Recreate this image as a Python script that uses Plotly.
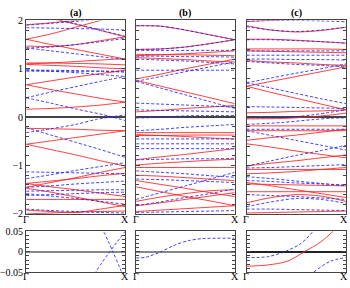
import plotly.graph_objects as go

# k-path grid (Gamma -> X) for the regular bands
K5 = [0.0, 0.25, 0.5, 0.75, 1.0]
k_labels = ["Γ", "X"]
panel_titles = ["(a)", "(b)", "(c)"]

# ---------- panel (a) ----------
a_red = [
    [0.165, 0.18, 0.21, 0.25, 0.31],
    [0.67, 0.57, 0.48, 0.39, 0.31],
    [0.67, 0.75, 0.83, 0.90, 0.97],
    [1.12, 1.12, 1.11, 1.10, 1.08],
    [1.10, 1.12, 1.15, 1.18, 1.21],
    [1.09, 1.07, 1.05, 1.02, 1.00],
    [1.61, 1.50, 1.40, 1.30, 1.20],
    [1.47, 1.46, 1.50, 1.58, 1.66],
    [1.61, 1.72, 1.86, 2.00, 2.15],
    [2.30, 2.05, 1.92, 1.79, 1.66],
    [1.91, 1.95, 2.00, 2.05, 2.10],
    [-0.23, -0.24, -0.25, -0.27, -0.28],
    [-0.56, -0.49, -0.42, -0.35, -0.28],
    [-0.56, -0.67, -0.78, -0.90, -1.01],
    [-1.37, -1.32, -1.27, -1.21, -1.16],
    [-1.45, -1.35, -1.25, -1.14, -1.04],
    [-1.37, -1.44, -1.50, -1.57, -1.64],
    [-1.70, -1.70, -1.70, -1.70, -1.70],
    [-1.47, -1.55, -1.65, -1.75, -1.85],
    [-1.92, -1.95, -1.97, -1.90, -1.82],
    [-2.00, -1.98, -1.96, -1.95, -1.94],
]
a_blue = [
    [0.40, 0.52, 0.63, 0.74, 0.84],
    [0.95, 0.95, 0.95, 0.95, 0.95],
    [0.97, 0.97, 0.96, 0.95, 0.93],
    [0.98, 0.95, 0.92, 0.88, 0.84],
    [1.43, 1.37, 1.31, 1.25, 1.19],
    [1.43, 1.45, 1.50, 1.56, 1.63],
    [1.90, 1.94, 1.98, 2.03, 2.08],
    [2.20, 2.05, 1.93, 1.80, 1.67],
    [1.85, 1.84, 1.83, 1.82, 1.80],
    [-0.22, -0.37, -0.52, -0.67, -0.83],
    [-1.13, -1.14, -1.15, -1.16, -1.17],
    [-1.27, -1.19, -1.10, -1.02, -0.94],
    [-1.53, -1.52, -1.51, -1.50, -1.50],
    [-1.58, -1.63, -1.68, -1.74, -1.80],
    [-1.45, -1.42, -1.38, -1.35, -1.32],
    [-1.90, -1.93, -1.95, -1.97, -1.98],
    [-1.62, -1.60, -1.58, -1.56, -1.55],
]
a_blue_near_k = [[0.0, 0.25, 0.5, 0.78, 1.0], [0.0, 0.25, 0.5, 0.7, 1.0]]
a_blue_near_e = [[0.40, 0.29, 0.17, 0.05, -0.07], [-0.32, -0.24, -0.15, -0.05, 0.05]]
a_red_near_k = []
a_red_near_e = []

# ---------- panel (b) ----------
b_red = [
    [1.89, 1.88, 1.80, 1.70, 1.60],
    [1.40, 1.41, 1.45, 1.52, 1.60],
    [1.30, 1.29, 1.29, 1.28, 1.27],
    [1.27, 1.29, 1.31, 1.34, 1.37],
    [1.23, 1.21, 1.19, 1.16, 1.14],
    [0.79, 0.89, 1.00, 1.10, 1.20],
    [0.76, 0.64, 0.52, 0.40, 0.28],
    [0.11, 0.14, 0.18, 0.21, 0.24],
    [-0.32, -0.32, -0.32, -0.32, -0.32],
    [-0.38, -0.38, -0.37, -0.37, -0.37],
    [-0.36, -0.38, -0.40, -0.43, -0.45],
    [-0.88, -0.82, -0.77, -0.71, -0.65],
    [-0.99, -0.95, -0.92, -0.89, -0.87],
    [-1.04, -1.04, -1.04, -1.04, -1.04],
    [-1.20, -1.22, -1.25, -1.28, -1.31],
    [-1.31, -1.39, -1.47, -1.56, -1.64],
    [-1.74, -1.65, -1.58, -1.52, -1.50],
    [-1.83, -1.77, -1.70, -1.63, -1.56],
    [-1.95, -1.92, -1.89, -1.86, -1.83],
    [-1.44, -1.54, -1.64, -1.73, -1.83],
]
b_blue = [
    [1.89, 1.88, 1.80, 1.70, 1.60],
    [1.40, 1.41, 1.45, 1.52, 1.60],
    [1.38, 1.38, 1.38, 1.38, 1.38],
    [1.26, 1.26, 1.25, 1.25, 1.24],
    [1.20, 1.18, 1.16, 1.13, 1.10],
    [0.97, 0.97, 0.97, 0.97, 0.97],
    [0.74, 0.84, 0.94, 1.04, 1.14],
    [0.74, 0.60, 0.46, 0.32, 0.18],
    [0.29, 0.27, 0.25, 0.23, 0.21],
    [0.15, 0.14, 0.13, 0.12, 0.11],
    [-0.28, -0.25, -0.21, -0.18, -0.15],
    [-0.45, -0.45, -0.45, -0.45, -0.45],
    [-0.55, -0.55, -0.55, -0.55, -0.55],
    [-0.65, -0.65, -0.65, -0.65, -0.65],
    [-0.88, -0.87, -0.86, -0.86, -0.85],
    [-1.11, -1.14, -1.17, -1.21, -1.24],
    [-1.28, -1.29, -1.31, -1.33, -1.35],
    [-1.70, -1.56, -1.42, -1.28, -1.14],
    [-1.83, -1.75, -1.66, -1.58, -1.48],
    [-1.97, -1.96, -1.95, -1.94, -1.93],
]
b_blue_near_k = [[0.0, 0.1, 0.25, 0.4, 0.53, 0.67, 1.0]]
b_blue_near_e = [[-0.015, -0.013, 0.0, 0.017, 0.027, 0.032, 0.033]]
b_red_near_k = []
b_red_near_e = []

# ---------- panel (c) ----------
c_red = [
    [1.89, 1.80, 1.76, 1.79, 1.86],
    [1.98, 2.00, 2.02, 2.04, 2.06],
    [1.61, 1.61, 1.59, 1.56, 1.53],
    [1.41, 1.41, 1.41, 1.41, 1.40],
    [1.37, 1.36, 1.35, 1.34, 1.33],
    [1.17, 1.14, 1.12, 1.09, 1.07],
    [0.64, 0.74, 0.84, 0.94, 1.04],
    [0.64, 0.51, 0.39, 0.27, 0.15],
    [0.09, 0.10, 0.12, 0.13, 0.15],
    [-0.18, -0.18, -0.18, -0.18, -0.18],
    [-0.28, -0.28, -0.28, -0.28, -0.28],
    [-0.48, -0.42, -0.37, -0.31, -0.25],
    [-0.55, -0.62, -0.70, -0.77, -0.84],
    [-1.01, -0.95, -0.90, -0.84, -0.78],
    [-1.08, -1.08, -1.08, -1.08, -1.08],
    [-1.17, -1.15, -1.12, -1.08, -1.04],
    [-1.38, -1.39, -1.40, -1.41, -1.42],
    [-1.54, -1.54, -1.54, -1.54, -1.54],
    [-1.77, -1.66, -1.60, -1.63, -1.74],
    [-1.98, -1.97, -1.96, -1.95, -1.94],
    [-1.35, -1.42, -1.50, -1.58, -1.66],
]
c_blue = [
    [1.87, 1.80, 1.77, 1.80, 1.86],
    [1.98, 2.00, 2.00, 1.99, 1.97],
    [1.60, 1.60, 1.58, 1.56, 1.53],
    [1.37, 1.37, 1.37, 1.37, 1.37],
    [1.28, 1.28, 1.28, 1.28, 1.28],
    [1.20, 1.20, 1.19, 1.19, 1.18],
    [1.15, 1.12, 1.09, 1.07, 1.04],
    [0.71, 0.81, 0.91, 1.00, 1.10],
    [0.71, 0.60, 0.49, 0.38, 0.28],
    [0.22, 0.21, 0.20, 0.19, 0.18],
    [-0.25, -0.25, -0.25, -0.25, -0.25],
    [-0.28, -0.38, -0.48, -0.58, -0.68],
    [-1.01, -0.90, -0.79, -0.69, -0.58],
    [-1.05, -1.04, -1.02, -1.00, -0.98],
    [-1.31, -1.33, -1.36, -1.38, -1.40],
    [-1.23, -1.27, -1.32, -1.37, -1.42],
    [-1.85, -1.75, -1.68, -1.70, -1.78],
    [-1.90, -1.90, -1.91, -1.92, -1.93],
    [-1.60, -1.62, -1.64, -1.67, -1.70],
]
c_blue_near_k = [[0.0, 0.21, 0.38, 0.54, 0.67, 1.0], [0.0, 0.35, 0.67, 0.84, 1.0]]
c_blue_near_e = [[-0.014, -0.012, 0.0, 0.019, 0.05, 0.15], [-0.15, -0.11, -0.05, -0.023, -0.014]]
c_red_near_k = [[0.0, 0.21, 0.41, 0.58, 0.74, 0.87, 1.0]]
c_red_near_e = [[-0.035, -0.032, -0.023, 0.0, 0.023, 0.05, 0.085]]

panels = [
    (a_red, a_blue, a_red_near_k, a_red_near_e, a_blue_near_k, a_blue_near_e),
    (b_red, b_blue, b_red_near_k, b_red_near_e, b_blue_near_k, b_blue_near_e),
    (c_red, c_blue, c_red_near_k, c_red_near_e, c_blue_near_k, c_blue_near_e),
]

W, H = 350, 288
x_px = [(21.5, 122), (133, 233), (245, 346)]
x_dom = [(a / W, b / W) for a, b in x_px]
top_dom = ((H - 217) / H, (H - 15) / H)
bot_dom = ((H - 278) / H, (H - 235) / H)

RED = "rgba(255,30,30,0.85)"
BLUE = "rgba(30,30,255,0.85)"
FONT = "Liberation Serif"
FRAME = "#444"

fig = go.Figure()

def add_band(xref, yref, k, e, color, dash):
    fig.add_trace(go.Scatter(
        x=k, y=e, mode="lines", xaxis=xref, yaxis=yref,
        line=dict(color=color, width=1, dash=dash, shape="spline", smoothing=0.8),
        showlegend=False, hoverinfo="skip"))

for i, (red, blue, rk, re_, bk, be) in enumerate(panels):
    for row in range(2):
        n = i + 1 + 3 * row
        xa = "x" if n == 1 else f"x{n}"
        ya = "y" if n == 1 else f"y{n}"
        for band in red:
            add_band(xa, ya, K5, band, RED, "solid")
        for kk, ee in zip(rk, re_):
            add_band(xa, ya, kk, ee, RED, "solid")
        for band in blue:
            add_band(xa, ya, K5, band, BLUE, "3px,2px")
        for kk, ee in zip(bk, be):
            add_band(xa, ya, kk, ee, BLUE, "3px,2px")

layout = dict(
    width=W, height=H, margin=dict(l=0, r=0, t=0, b=0),
    paper_bgcolor="white", plot_bgcolor="white",
    font=dict(family=FONT, size=10, color="black"),
    showlegend=False,
)
for i in range(3):
    for row in range(2):
        n = i + 1 + 3 * row
        xkey = "xaxis" if n == 1 else f"xaxis{n}"
        ykey = "yaxis" if n == 1 else f"yaxis{n}"
        xa = "x" if n == 1 else f"x{n}"
        ya = "y" if n == 1 else f"y{n}"
        layout[xkey] = dict(
            domain=list(x_dom[i]), anchor=ya, range=[0, 1],
            showticklabels=False, ticks="",
            showline=True, mirror=True, linecolor=FRAME, linewidth=1.2,
            showgrid=False, zeroline=False,
        )
        if row == 0:
            yr = [-2, 2]; mdt = 0.2
            tv = [-2, -1, 0, 1, 2]; tt = ["−2", "−1", "0", "1", "2"]
            dom = top_dom; zc = "#444"
        else:
            yr = [-0.05, 0.05]; mdt = 0.01
            tv = [-0.05, 0, 0.05]; tt = ["−0.05", "0", "0.05"]
            dom = bot_dom; zc = "#888" if i < 2 else "#222"
        layout[ykey] = dict(
            domain=list(dom), anchor=xa, range=yr,
            tickvals=tv, ticktext=tt, ticks="inside", ticklen=4,
            tickcolor=FRAME, tickwidth=1,
            minor=dict(dtick=mdt, ticks="inside", ticklen=3, tickcolor=FRAME, tickwidth=1),
            showline=True, mirror="allticks", linecolor=FRAME, linewidth=1.2,
            showgrid=False, zeroline=True, zerolinecolor=zc, zerolinewidth=1.6,
            showticklabels=(i == 0),
            tickfont=dict(family=FONT, size=10),
        )
fig.update_layout(**layout)

for i, t in enumerate(panel_titles):
    fig.add_annotation(
        x=(x_dom[i][0] + x_dom[i][1]) / 2, y=(H - 7) / H, xref="paper", yref="paper",
        text=f"<b>{t}</b>", showarrow=False, font=dict(family=FONT, size=10),
        xanchor="center", yanchor="middle")

# k-point labels (Γ, X) under every panel
for i in range(3):
    left, right = x_px[i]
    for ypx in (222.5, 282.5):
        fig.add_annotation(
            x=left / W, y=(H - ypx) / H, xref="paper", yref="paper",
            text=k_labels[0], showarrow=False, font=dict(family=FONT, size=10),
            xanchor="center", yanchor="middle")
        xr = right if i < 2 else 343.5
        fig.add_annotation(
            x=xr / W, y=(H - ypx) / H, xref="paper", yref="paper",
            text=k_labels[1], showarrow=False, font=dict(family=FONT, size=10),
            xanchor="center", yanchor="middle")

fig.write_html(
    "out.html",
    config={"displayModeBar": False},
    post_script="document.body.style.margin='0';document.body.style.overflow='hidden';",
)
